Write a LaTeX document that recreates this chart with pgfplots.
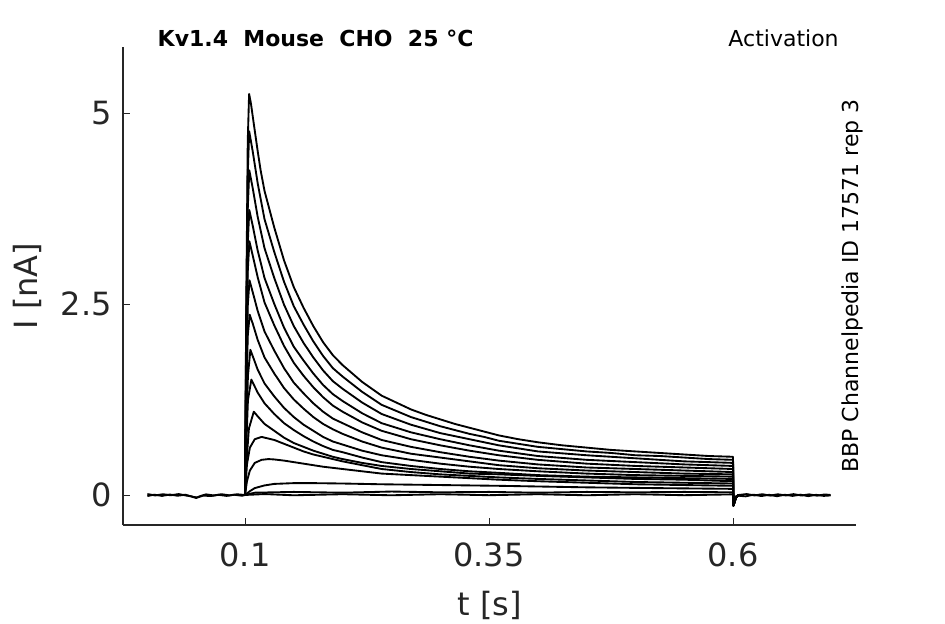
\documentclass[border=0pt]{standalone}
\usepackage{fontspec}
\setmainfont{DejaVu Sans}
\usepackage{pgfplots}
\pgfplotsset{compat=1.18}
\definecolor{axgray}{RGB}{38,38,38}
\pgfplotsset{tr/.style={black, solid, line width=1.4pt, line join=round, mark=none}}
\begin{document}
\begin{tikzpicture}
\useasboundingbox (-92.25pt,-74.25pt) rectangle (616.5pt,393.75pt);
\begin{axis}[
  scale only axis, width=549.75pt, height=358.5pt,
  xmin=-0.025, xmax=0.726, ymin=-0.393, ymax=5.864,
  axis lines=left,
  axis line style={-, draw=axgray, line width=0.8pt},
  xtick={0.1,0.35,0.6}, ytick={0,2.5,5},
  xticklabels={0.1,0.35,0.6}, yticklabels={0,2.5,5},
  tick align=inside, major tick length=5pt,
  tick style={draw=axgray, line width=0.7pt},
  ticklabel style={font=\fontsize{24}{28}\selectfont, text=axgray},
  yticklabel style={xshift=-5pt},
  xticklabel style={yshift=-10pt},
  xlabel={t [s]}, ylabel={I [nA]},
  xlabel style={font=\fontsize{24}{28}\selectfont, text=axgray, at={(axis description cs:0.5,0)}, anchor=base, yshift=-67.5pt},
  ylabel style={font=\fontsize{24}{28}\selectfont, text=axgray, at={(axis description cs:0,0.5)}, anchor=base, yshift=63.75pt},
  clip=false,
]
% baseline before and after the pulse
\addplot[tr] coordinates {(0.0,0.012)(0.008,-0.006)(0.016,0.010)(0.024,-0.004)(0.032,0.012)(0.040,-0.008)(0.046,-0.020)(0.050,-0.040)(0.054,-0.015)(0.060,0.008)(0.068,-0.006)(0.076,0.010)(0.084,-0.005)(0.092,0.009)(0.1,0.0)};
\addplot[tr] coordinates {(0.0,-0.014)(0.007,0.004)(0.015,-0.012)(0.023,0.006)(0.031,-0.010)(0.039,0.004)(0.047,-0.028)(0.052,-0.030)(0.057,-0.008)(0.065,-0.014)(0.073,0.002)(0.081,-0.012)(0.089,0.003)(0.097,-0.010)(0.1,0.0)};
\addplot[tr] coordinates {(0.606,0.0)(0.614,0.012)(0.622,-0.006)(0.630,0.010)(0.638,-0.008)(0.646,0.009)(0.654,-0.006)(0.662,0.011)(0.670,-0.007)(0.678,0.008)(0.686,-0.009)(0.694,0.007)(0.7,0.0)};
\addplot[tr] coordinates {(0.606,-0.01)(0.613,-0.018)(0.621,0.004)(0.629,-0.014)(0.637,0.002)(0.645,-0.016)(0.653,0.003)(0.661,-0.012)(0.669,0.004)(0.677,-0.015)(0.685,0.002)(0.693,-0.012)(0.7,-0.006)};
% flat traces during the pulse
\addplot[tr] coordinates {(0.1,0)(0.12,0.012)(0.15,-0.004)(0.2,0.010)(0.25,-0.004)(0.3,0.010)(0.35,-0.003)(0.4,0.010)(0.45,-0.004)(0.5,0.010)(0.55,-0.003)(0.6,0.008)(0.6004,-0.10)(0.603,-0.02)(0.606,0.0)};
\addplot[tr] coordinates {(0.1,0)(0.11,0.03)(0.15,0.04)(0.2,0.03)(0.25,0.045)(0.3,0.035)(0.35,0.04)(0.4,0.03)(0.45,0.04)(0.5,0.035)(0.55,0.04)(0.6,0.035)(0.6004,-0.12)(0.603,-0.02)(0.606,0.0)};
% small trace
\addplot[tr] coordinates {(0.1,0)(0.105,0.05)(0.11,0.09)(0.12,0.125)(0.13,0.145)(0.15,0.155)(0.17,0.155)(0.20,0.150)(0.24,0.14)(0.30,0.13)(0.36,0.12)(0.45,0.10)(0.52,0.09)(0.6,0.08)(0.6004,-0.14)(0.603,-0.03)(0.606,0.0)};
% trace 12
\addplot[tr] coordinates {(0.1,0)(0.102,0.18)(0.105,0.32)(0.11,0.42)(0.117,0.46)(0.124,0.47)(0.13,0.465)(0.14,0.45)(0.15,0.43)(0.16,0.41)(0.17,0.39)(0.18,0.37)(0.20,0.34)(0.22,0.31)(0.24,0.28)(0.27,0.26)(0.30,0.24)(0.33,0.22)(0.36,0.20)(0.40,0.18)(0.45,0.16)(0.50,0.14)(0.55,0.13)(0.60,0.12)(0.6004,-0.14)(0.603,-0.03)(0.606,0.0)};
% trace 11
\addplot[tr] coordinates {(0.1,0)(0.102,0.40)(0.105,0.62)(0.11,0.73)(0.117,0.76)(0.13,0.72)(0.14,0.67)(0.15,0.62)(0.16,0.57)(0.17,0.53)(0.18,0.50)(0.19,0.47)(0.20,0.44)(0.22,0.39)(0.24,0.34)(0.27,0.30)(0.30,0.27)(0.33,0.25)(0.36,0.23)(0.40,0.21)(0.45,0.19)(0.50,0.17)(0.55,0.16)(0.60,0.15)(0.6004,-0.14)(0.603,-0.03)(0.606,0.0)};
% trace 10
\addplot[tr] coordinates {(0.1,0)(0.1012,0.38)(0.104,0.87)(0.109,1.09)(0.113,1.03)(0.12,0.93)(0.13,0.84)(0.14,0.75)(0.15,0.68)(0.16,0.63)(0.17,0.58)(0.18,0.54)(0.19,0.50)(0.20,0.47)(0.22,0.42)(0.24,0.38)(0.27,0.34)(0.30,0.31)(0.33,0.28)(0.36,0.27)(0.40,0.25)(0.45,0.23)(0.50,0.21)(0.55,0.20)(0.60,0.18)(0.6004,-0.14)(0.603,-0.03)(0.606,0.0)};
% trace 9
\addplot[tr] coordinates {(0.1,0)(0.1012,0.60)(0.103,1.24)(0.1065,1.51)(0.113,1.34)(0.12,1.20)(0.13,1.06)(0.14,0.94)(0.15,0.85)(0.16,0.77)(0.17,0.70)(0.18,0.64)(0.19,0.59)(0.20,0.56)(0.22,0.49)(0.24,0.43)(0.27,0.38)(0.30,0.34)(0.33,0.31)(0.36,0.29)(0.40,0.26)(0.45,0.24)(0.50,0.23)(0.55,0.22)(0.60,0.21)(0.6004,-0.14)(0.603,-0.03)(0.606,0.0)};
% trace 8
\addplot[tr] coordinates {(0.1,0)(0.1012,0.76)(0.103,1.56)(0.1055,1.90)(0.109,1.78)(0.113,1.64)(0.12,1.46)(0.13,1.29)(0.14,1.14)(0.15,1.02)(0.16,0.92)(0.17,0.84)(0.18,0.76)(0.19,0.70)(0.20,0.66)(0.22,0.58)(0.24,0.52)(0.27,0.46)(0.30,0.41)(0.33,0.37)(0.36,0.34)(0.40,0.31)(0.45,0.28)(0.50,0.26)(0.55,0.25)(0.60,0.24)(0.6004,-0.14)(0.603,-0.03)(0.606,0.0)};
% trace 7
\addplot[tr] coordinates {(0.1,0)(0.1012,1.06)(0.1028,2.08)(0.1048,2.36)(0.108,2.24)(0.113,2.03)(0.12,1.80)(0.13,1.59)(0.14,1.40)(0.15,1.25)(0.16,1.13)(0.17,1.02)(0.18,0.93)(0.19,0.86)(0.20,0.80)(0.22,0.70)(0.24,0.62)(0.27,0.54)(0.30,0.49)(0.33,0.44)(0.36,0.39)(0.40,0.35)(0.45,0.32)(0.50,0.30)(0.55,0.28)(0.60,0.27)(0.6004,-0.14)(0.603,-0.03)(0.606,0.0)};
% trace 6
\addplot[tr] coordinates {(0.1,0)(0.1012,1.26)(0.1028,2.47)(0.1046,2.81)(0.108,2.65)(0.113,2.41)(0.12,2.14)(0.13,1.89)(0.14,1.66)(0.15,1.47)(0.16,1.33)(0.17,1.20)(0.18,1.09)(0.19,1.00)(0.20,0.94)(0.22,0.82)(0.24,0.72)(0.27,0.63)(0.30,0.56)(0.33,0.50)(0.36,0.45)(0.40,0.40)(0.45,0.36)(0.50,0.34)(0.55,0.32)(0.60,0.30)(0.6004,-0.14)(0.603,-0.03)(0.606,0.0)};
% trace 5
\addplot[tr] coordinates {(0.1,0)(0.1012,1.49)(0.1028,2.92)(0.1045,3.32)(0.108,3.13)(0.113,2.85)(0.12,2.52)(0.13,2.22)(0.14,1.95)(0.15,1.73)(0.16,1.56)(0.17,1.41)(0.18,1.28)(0.19,1.17)(0.20,1.09)(0.22,0.95)(0.24,0.84)(0.27,0.73)(0.30,0.65)(0.33,0.58)(0.36,0.52)(0.40,0.46)(0.45,0.41)(0.50,0.38)(0.55,0.36)(0.60,0.34)(0.6004,-0.14)(0.603,-0.03)(0.606,0.0)};
% trace 4
\addplot[tr] coordinates {(0.1,0)(0.1012,1.68)(0.1028,3.28)(0.1044,3.73)(0.108,3.52)(0.113,3.20)(0.12,2.84)(0.13,2.50)(0.14,2.19)(0.15,1.94)(0.16,1.76)(0.17,1.59)(0.18,1.44)(0.19,1.32)(0.20,1.23)(0.22,1.07)(0.24,0.94)(0.27,0.82)(0.30,0.73)(0.33,0.65)(0.36,0.58)(0.40,0.51)(0.45,0.46)(0.50,0.43)(0.55,0.40)(0.60,0.38)(0.6004,-0.14)(0.603,-0.03)(0.606,0.0)};
% trace 3
\addplot[tr] coordinates {(0.1,0)(0.1012,1.91)(0.1028,3.74)(0.1044,4.25)(0.108,4.01)(0.113,3.64)(0.12,3.23)(0.13,2.84)(0.14,2.49)(0.15,2.21)(0.16,1.99)(0.17,1.80)(0.18,1.63)(0.19,1.49)(0.20,1.39)(0.22,1.21)(0.24,1.06)(0.27,0.92)(0.30,0.81)(0.33,0.73)(0.36,0.65)(0.40,0.57)(0.45,0.52)(0.50,0.48)(0.55,0.44)(0.60,0.42)(0.6004,-0.14)(0.603,-0.03)(0.606,0.0)};
% trace 2
\addplot[tr] coordinates {(0.1,0)(0.1012,2.14)(0.1028,4.19)(0.1043,4.76)(0.108,4.49)(0.113,4.08)(0.12,3.61)(0.13,3.18)(0.14,2.79)(0.15,2.47)(0.16,2.23)(0.17,2.01)(0.18,1.82)(0.19,1.66)(0.20,1.55)(0.22,1.35)(0.24,1.18)(0.255,1.10)(0.27,1.02)(0.285,0.96)(0.30,0.90)(0.315,0.85)(0.33,0.80)(0.345,0.76)(0.36,0.71)(0.38,0.67)(0.40,0.63)(0.425,0.60)(0.45,0.57)(0.475,0.55)(0.50,0.52)(0.525,0.51)(0.55,0.49)(0.575,0.47)(0.60,0.46)(0.6004,-0.14)(0.603,-0.03)(0.606,0.0)};
% trace 1
\addplot[tr] coordinates {(0.1,0)(0.1012,2.36)(0.1028,4.62)(0.1042,5.25)(0.106,5.13)(0.108,4.95)(0.110,4.77)(0.113,4.50)(0.116,4.25)(0.12,3.98)(0.13,3.50)(0.14,3.07)(0.15,2.72)(0.16,2.45)(0.17,2.21)(0.18,2.00)(0.19,1.83)(0.20,1.70)(0.21,1.59)(0.22,1.48)(0.23,1.39)(0.24,1.30)(0.25,1.24)(0.26,1.18)(0.27,1.12)(0.285,1.05)(0.30,0.99)(0.315,0.93)(0.33,0.88)(0.345,0.83)(0.36,0.78)(0.38,0.73)(0.40,0.69)(0.425,0.65)(0.45,0.62)(0.475,0.59)(0.50,0.57)(0.525,0.55)(0.55,0.53)(0.575,0.51)(0.60,0.50)(0.6004,-0.14)(0.603,-0.03)(0.606,0.0)};
% annotations
\node[anchor=base west, font=\fontsize{16.5}{19}\selectfont\bfseries, text=black] at (axis description cs:0,1) [xshift=22.5pt] {Kv1.4\ \ Mouse\ \ CHO\ \ 25 °C};
\node[anchor=base east, font=\fontsize{16.5}{19}\selectfont, text=black] at (axis description cs:1,1) [xshift=-9.5pt] {Activation};
\node[anchor=base, rotate=90, font=\fontsize{16.5}{19}\selectfont, text=black] at (axis description cs:1,0.5) [yshift=-1.5pt] {BBP Channelpedia ID 17571 rep 3};
\end{axis}
\end{tikzpicture}
\end{document}
